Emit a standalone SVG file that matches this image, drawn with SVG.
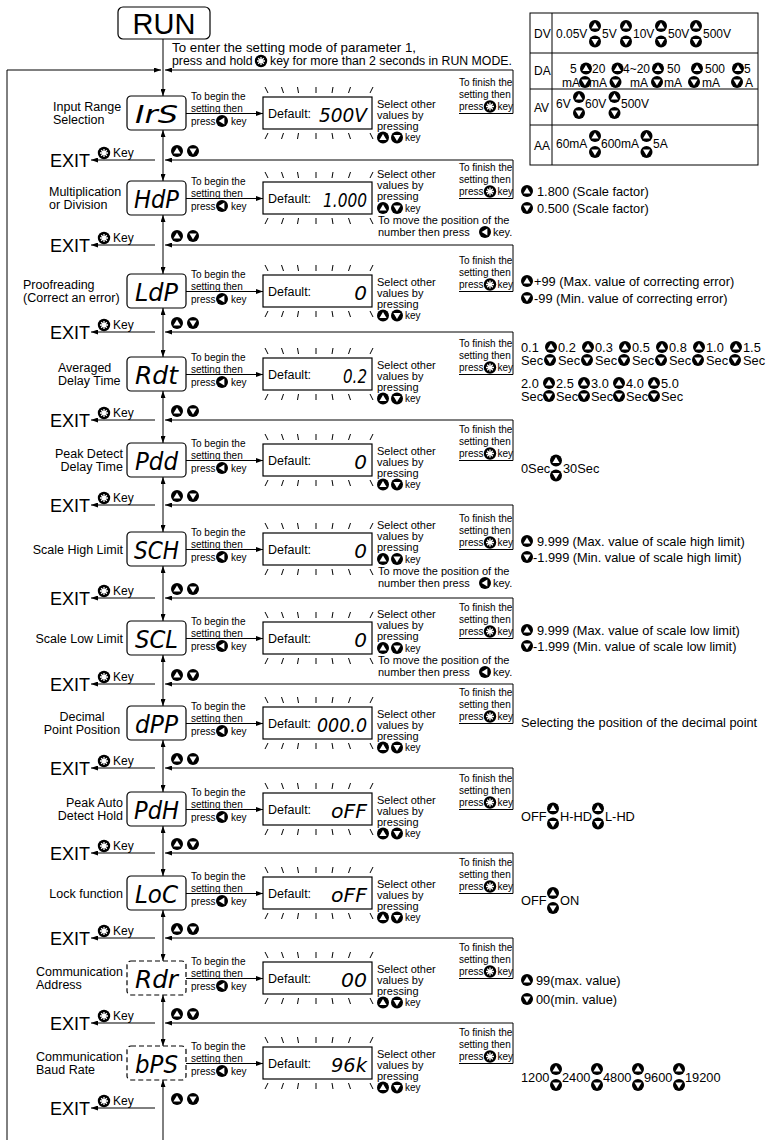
<svg xmlns="http://www.w3.org/2000/svg" width="766" height="1140" viewBox="0 0 766 1140">
<style>
text{font-family:"Liberation Sans",Arial,sans-serif;fill:#000}
.lb{font-size:12.5px}
.sb{font-size:10px}
.s10{font-size:10px}
.s11{font-size:11px}
.rt{font-size:12.8px}
.tb{font-size:12px}
.ky{font-size:12px}
.seg{font-family:"DejaVu Sans",sans-serif;font-style:oblique;font-size:25px}
.dfv{font-family:"DejaVu Sans",sans-serif;font-style:oblique;font-size:20px}
.ex{font-size:18px}
.ln{fill:none;stroke:#000;stroke-width:1}
.bx{fill:#fff;stroke:#000;stroke-width:1.2}
.dash{stroke-dasharray:5 3}
.ar{marker-end:url(#ah)}
.ar2{marker-start:url(#ah);marker-end:url(#ah)}
</style>
<defs>
<marker id="ah" viewBox="0 0 7 5" refX="7" refY="2.5" markerWidth="7" markerHeight="5" markerUnits="userSpaceOnUse" orient="auto-start-reverse"><path d="M0,0L7,2.5L0,5Z" fill="#000"/></marker>
<g id="up"><circle r="6" fill="#000"/><path d="M0,-3.4L3.6,2.4H-3.6Z" fill="#fff"/></g>
<g id="dn"><circle r="6" fill="#000"/><path d="M0,3.4L3.6,-2.4H-3.6Z" fill="#fff"/></g>
<g id="lt"><circle r="6" fill="#000"/><path d="M-3.4,0L2.4,-3.6V3.6Z" fill="#fff"/></g>
<g id="star"><circle r="6.2" fill="#000"/><path d="M0,-4V4M-4,0H4M-2.8,-2.8L2.8,2.8M-2.8,2.8L2.8,-2.8" stroke="#fff" stroke-width="1.3"/></g>
<g id="ticks"><path class="ln" d="M265,-9L268,-3M281.5,-9L283.5,-3M297.5,-9L298.5,-3M316,-9V-3M333,-9L332,-3M350.5,-9L348.5,-3M373,-9L370,-3M268,37L265,43M283.5,37L281.5,43M298.5,37L297.5,43M316,37V43M332,37L333,43M348.5,37L350.5,43M370,37L373,43"/></g>
</defs>
<rect width="766" height="1140" fill="#fff"/>

<g id="run">
<rect class="bx" x="118" y="7" width="92" height="32" rx="5" stroke-width="1.5"/>
<text x="164" y="34" font-size="29" text-anchor="middle">RUN</text>
</g>
<g id="enter-note">
<text class="rt" x="172" y="52" textLength="244" lengthAdjust="spacingAndGlyphs">To enter the setting mode of parameter 1,</text>
<text class="rt" x="172" y="65" style="font-size:12.3px">press and hold</text>
<use href="#star" x="261" y="61"/>
<text class="rt" x="270" y="65" style="font-size:12.3px">key for more than 2 seconds in RUN MODE.</text>
</g>

<g id="range-table">
<rect x="530" y="13" width="228" height="152" fill="none" stroke="#000" stroke-width="1"/>
<path class="ln" d="M530,53H758M530,89H758M530,125H758M552,13V165"/>
<text class="tb" x="534" y="38">DV</text>
<text class="tb" x="534" y="75">DA</text>
<text class="tb" x="534" y="112">AV</text>
<text class="tb" x="534" y="150">AA</text>
<text class="tb" x="556" y="38">0.05V</text><use href="#up" x="595" y="26"/><use href="#dn" x="595" y="41.5"/>
<text class="tb" x="602" y="38">5V</text><use href="#up" x="626" y="26"/><use href="#dn" x="626" y="41.5"/>
<text class="tb" x="633" y="38">10V</text><use href="#up" x="661" y="26"/><use href="#dn" x="661" y="41.5"/>
<text class="tb" x="668" y="38">50V</text><use href="#up" x="696" y="26"/><use href="#dn" x="696" y="41.5"/>
<text class="tb" x="703" y="38">500V</text>
<text class="tb" x="570" y="73">5</text><text class="tb" x="562" y="86.5">mA</text>
<use href="#up" x="586" y="68.5"/><use href="#dn" x="585" y="82"/>
<text class="tb" x="592" y="73">20</text><text class="tb" x="589" y="86.5">mA</text>
<use href="#up" x="617.5" y="68.5"/><use href="#dn" x="615.5" y="82"/>
<text class="tb" x="623" y="73">4~20</text><text class="tb" x="630" y="86.5">mA</text>
<use href="#up" x="658" y="68.5"/><use href="#dn" x="657" y="82"/>
<text class="tb" x="667" y="73">50</text><text class="tb" x="664" y="86.5">mA</text>
<use href="#up" x="697" y="68.5"/><use href="#dn" x="694" y="82"/>
<text class="tb" x="705" y="73">500</text><text class="tb" x="702" y="86.5">mA</text>
<use href="#up" x="738" y="68.5"/><use href="#dn" x="737" y="82"/>
<text class="tb" x="744" y="73">5</text><text class="tb" x="745" y="86.5">A</text>
<text class="tb" x="556" y="108">6V</text><use href="#up" x="579" y="97"/><use href="#dn" x="579" y="113"/>
<text class="tb" x="585" y="108">60V</text><use href="#up" x="614.5" y="97"/><use href="#dn" x="614.5" y="113"/>
<text class="tb" x="621" y="108">500V</text>
<text class="tb" x="556" y="148">60mA</text><use href="#up" x="595" y="136"/><use href="#dn" x="595" y="152"/>
<text class="tb" x="601" y="148">600mA</text><use href="#up" x="646.5" y="136"/><use href="#dn" x="646.5" y="152"/>
<text class="tb" x="653" y="148">5A</text>
</g>

<!-- Row 1 -->
<g id="node-irs" transform="translate(0,96)">
<text class="lb" x="53" y="14.5">Input Range</text><text class="lb" x="53" y="27.5">Selection</text>
<rect class="bx" x="127" y="0" width="59" height="34" rx="4"/>
<text class="seg" x="135" y="27" textLength="43" lengthAdjust="spacingAndGlyphs">IrS</text>
<text class="sb" x="191" y="4">To begin the</text><text class="sb" x="191" y="16">setting then</text><text class="sb" x="191" y="28.5">press</text><use href="#lt" x="222" y="25"/><text class="sb" x="231" y="28.5">key</text>
<rect class="bx" x="263" y="1" width="109" height="32"/><use href="#ticks"/>
<text class="lb" x="268" y="22">Default:</text>
<text class="dfv" x="367" y="26" text-anchor="end" textLength="48" lengthAdjust="spacingAndGlyphs">500V</text>
<text class="s11" x="377" y="12">Select other</text><text class="s11" x="377" y="23">values by</text><text class="s11" x="377" y="34">pressing</text>
<use href="#up" x="383" y="41.5"/><use href="#dn" x="397" y="41.5"/><text class="sb" x="405" y="45">key</text>
<text class="s10" x="459" y="-10">To finish the</text><text class="s10" x="459" y="2">setting then</text><text class="s10" x="459" y="14">press</text><use href="#star" x="490" y="10.5"/><text class="s10" x="497.5" y="14">key</text>
</g>

<!-- Row 2 -->
<g id="node-hdp" transform="translate(0,181)">
<text class="lb" x="49" y="14.5">Multiplication</text><text class="lb" x="49" y="27.5">or Division</text>
<rect class="bx" x="127" y="0" width="59" height="34" rx="4"/>
<text class="seg" x="134" y="27" textLength="45" lengthAdjust="spacingAndGlyphs">HdP</text>
<text class="sb" x="191" y="4">To begin the</text><text class="sb" x="191" y="16">setting then</text><text class="sb" x="191" y="28.5">press</text><use href="#lt" x="222" y="25"/><text class="sb" x="231" y="28.5">key</text>
<rect class="bx" x="263" y="1" width="109" height="32"/><use href="#ticks"/>
<text class="lb" x="268" y="22">Default:</text>
<text class="dfv" x="367" y="26" text-anchor="end" textLength="44" lengthAdjust="spacingAndGlyphs">1.000</text>
<text class="s11" x="377" y="-3">Select other</text><text class="s11" x="377" y="8">values by</text><text class="s11" x="377" y="19">pressing</text>
<use href="#up" x="383" y="27"/><use href="#dn" x="397" y="27"/><text class="sb" x="405" y="30.5">key</text>
<text class="s11" x="378" y="43">To move the position of the</text>
<text class="s11" x="378" y="55">number then press</text><use href="#lt" x="485" y="51"/><text class="s11" x="493" y="55">key.</text>
<text class="s10" x="459" y="-10">To finish the</text><text class="s10" x="459" y="2">setting then</text><text class="s10" x="459" y="14">press</text><use href="#star" x="490" y="10.5"/><text class="s10" x="497.5" y="14">key</text>
<use href="#up" x="527" y="10"/><text class="rt" x="537" y="14.5">1.800 (Scale factor)</text>
<use href="#dn" x="527" y="27"/><text class="rt" x="537" y="31.5">0.500 (Scale factor)</text>
</g>

<!-- Row 3 -->
<g id="node-ldp" transform="translate(0,274)">
<text class="lb" x="23" y="14.5">Proofreading</text><text class="lb" x="23" y="27.5">(Correct an error)</text>
<rect class="bx" x="127" y="0" width="59" height="34" rx="4"/>
<text class="seg" x="135" y="27" textLength="43" lengthAdjust="spacingAndGlyphs">LdP</text>
<text class="sb" x="191" y="4">To begin the</text><text class="sb" x="191" y="16">setting then</text><text class="sb" x="191" y="28.5">press</text><use href="#lt" x="222" y="25"/><text class="sb" x="231" y="28.5">key</text>
<rect class="bx" x="263" y="1" width="109" height="32"/><use href="#ticks"/>
<text class="lb" x="268" y="22">Default:</text>
<text class="dfv" x="367" y="26" text-anchor="end">0</text>
<text class="s11" x="377" y="12">Select other</text><text class="s11" x="377" y="23">values by</text><text class="s11" x="377" y="34">pressing</text>
<use href="#up" x="383" y="41.5"/><use href="#dn" x="397" y="41.5"/><text class="sb" x="405" y="45">key</text>
<text class="s10" x="459" y="-10">To finish the</text><text class="s10" x="459" y="2">setting then</text><text class="s10" x="459" y="14">press</text><use href="#star" x="490" y="10.5"/><text class="s10" x="497.5" y="14">key</text>
<use href="#up" x="527" y="7"/><text class="rt" x="534" y="11.5">+99 (Max. value of correcting error)</text>
<use href="#dn" x="527" y="24"/><text class="rt" x="534" y="28.5">-99 (Min. value of correcting error)</text>
</g>

<!-- Row 4 -->
<g id="node-adt" transform="translate(0,357)">
<text class="lb" x="58" y="14.5">Averaged</text><text class="lb" x="58" y="27.5">Delay Time</text>
<rect class="bx" x="127" y="0" width="59" height="34" rx="4"/>
<text class="seg" x="135" y="27" textLength="43" lengthAdjust="spacingAndGlyphs">Rdt</text>
<text class="sb" x="191" y="4">To begin the</text><text class="sb" x="191" y="16">setting then</text><text class="sb" x="191" y="28.5">press</text><use href="#lt" x="222" y="25"/><text class="sb" x="231" y="28.5">key</text>
<rect class="bx" x="263" y="1" width="109" height="32"/><use href="#ticks"/>
<text class="lb" x="268" y="22">Default:</text>
<text class="dfv" x="367" y="26" text-anchor="end" textLength="24" lengthAdjust="spacingAndGlyphs">0.2</text>
<text class="s11" x="377" y="12">Select other</text><text class="s11" x="377" y="23">values by</text><text class="s11" x="377" y="34">pressing</text>
<use href="#up" x="383" y="41.5"/><use href="#dn" x="397" y="41.5"/><text class="sb" x="405" y="45">key</text>
<text class="s10" x="459" y="-10">To finish the</text><text class="s10" x="459" y="2">setting then</text><text class="s10" x="459" y="14">press</text><use href="#star" x="490" y="10.5"/><text class="s10" x="497.5" y="14">key</text>
<text class="rt" x="521" y="-5.5">0.1</text><text class="rt" x="558" y="-5.5">0.2</text><text class="rt" x="595" y="-5.5">0.3</text><text class="rt" x="632" y="-5.5">0.5</text><text class="rt" x="669" y="-5.5">0.8</text><text class="rt" x="706" y="-5.5">1.0</text><text class="rt" x="743" y="-5.5">1.5</text>
<text class="rt" x="521" y="7.5">Sec</text><text class="rt" x="558" y="7.5">Sec</text><text class="rt" x="595" y="7.5">Sec</text><text class="rt" x="632" y="7.5">Sec</text><text class="rt" x="669" y="7.5">Sec</text><text class="rt" x="706" y="7.5">Sec</text><text class="rt" x="743" y="7.5">Sec</text>
<use href="#up" x="551" y="-10"/><use href="#up" x="588" y="-10"/><use href="#up" x="625" y="-10"/><use href="#up" x="662" y="-10"/><use href="#up" x="699" y="-10"/><use href="#up" x="736" y="-10"/>
<use href="#dn" x="550" y="3"/><use href="#dn" x="587" y="3"/><use href="#dn" x="624" y="3"/><use href="#dn" x="661" y="3"/><use href="#dn" x="698" y="3"/><use href="#dn" x="735" y="3"/>
<text class="rt" x="521" y="30.5">2.0</text><text class="rt" x="556" y="30.5">2.5</text><text class="rt" x="591" y="30.5">3.0</text><text class="rt" x="626" y="30.5">4.0</text><text class="rt" x="661" y="30.5">5.0</text>
<text class="rt" x="521" y="43.5">Sec</text><text class="rt" x="556" y="43.5">Sec</text><text class="rt" x="591" y="43.5">Sec</text><text class="rt" x="626" y="43.5">Sec</text><text class="rt" x="661" y="43.5">Sec</text>
<use href="#up" x="549" y="26"/><use href="#up" x="584" y="26"/><use href="#up" x="619" y="26"/><use href="#up" x="654" y="26"/>
<use href="#dn" x="549" y="39"/><use href="#dn" x="584" y="39"/><use href="#dn" x="619" y="39"/><use href="#dn" x="654" y="39"/>
</g>

<!-- Row 5 -->
<g id="node-pdd" transform="translate(0,443)">
<text class="lb" x="123" y="14.5" text-anchor="end">Peak Detect</text><text class="lb" x="123" y="27.5" text-anchor="end">Delay Time</text>
<rect class="bx" x="127" y="0" width="59" height="34" rx="4"/>
<text class="seg" x="135" y="27" textLength="43" lengthAdjust="spacingAndGlyphs">Pdd</text>
<text class="sb" x="191" y="4">To begin the</text><text class="sb" x="191" y="16">setting then</text><text class="sb" x="191" y="28.5">press</text><use href="#lt" x="222" y="25"/><text class="sb" x="231" y="28.5">key</text>
<rect class="bx" x="263" y="1" width="109" height="32"/><use href="#ticks"/>
<text class="lb" x="268" y="22">Default:</text>
<text class="dfv" x="367" y="26" text-anchor="end">0</text>
<text class="s11" x="377" y="12">Select other</text><text class="s11" x="377" y="23">values by</text><text class="s11" x="377" y="34">pressing</text>
<use href="#up" x="383" y="41.5"/><use href="#dn" x="397" y="41.5"/><text class="sb" x="405" y="45">key</text>
<text class="s10" x="459" y="-10">To finish the</text><text class="s10" x="459" y="2">setting then</text><text class="s10" x="459" y="14">press</text><use href="#star" x="490" y="10.5"/><text class="s10" x="497.5" y="14">key</text>
<text class="rt" x="521" y="29.5">0Sec</text><use href="#up" x="556" y="17.5"/><use href="#dn" x="556" y="32.5"/><text class="rt" x="563" y="29.5">30Sec</text>
</g>

<!-- Row 6 -->
<g id="node-sch" transform="translate(0,532)">
<text class="lb" x="123" y="21.5" text-anchor="end">Scale High Limit</text>
<rect class="bx" x="127" y="0" width="59" height="34" rx="4"/>
<text class="seg" x="134" y="27" textLength="45" lengthAdjust="spacingAndGlyphs">SCH</text>
<text class="sb" x="191" y="4">To begin the</text><text class="sb" x="191" y="16">setting then</text><text class="sb" x="191" y="28.5">press</text><use href="#lt" x="222" y="25"/><text class="sb" x="231" y="28.5">key</text>
<rect class="bx" x="263" y="1" width="109" height="32"/><use href="#ticks"/>
<text class="lb" x="268" y="22">Default:</text>
<text class="dfv" x="367" y="26" text-anchor="end">0</text>
<text class="s11" x="377" y="-3">Select other</text><text class="s11" x="377" y="8">values by</text><text class="s11" x="377" y="19">pressing</text>
<use href="#up" x="383" y="27"/><use href="#dn" x="397" y="27"/><text class="sb" x="405" y="30.5">key</text>
<text class="s11" x="378" y="43">To move the position of the</text>
<text class="s11" x="378" y="55">number then press</text><use href="#lt" x="485" y="51"/><text class="s11" x="493" y="55">key.</text>
<text class="s10" x="459" y="-10">To finish the</text><text class="s10" x="459" y="2">setting then</text><text class="s10" x="459" y="14">press</text><use href="#star" x="490" y="10.5"/><text class="s10" x="497.5" y="14">key</text>
<use href="#up" x="527" y="9"/><text class="rt" x="537" y="13.5">9.999 (Max. value of scale high limit)</text>
<use href="#dn" x="527" y="25"/><text class="rt" x="533" y="29.5">-1.999 (Min. value of scale high limit)</text>
</g>

<!-- Row 7 -->
<g id="node-scl" transform="translate(0,621)">
<text class="lb" x="123" y="21.5" text-anchor="end">Scale Low Limit</text>
<rect class="bx" x="127" y="0" width="59" height="34" rx="4"/>
<text class="seg" x="135" y="27" textLength="43" lengthAdjust="spacingAndGlyphs">SCL</text>
<text class="sb" x="191" y="4">To begin the</text><text class="sb" x="191" y="16">setting then</text><text class="sb" x="191" y="28.5">press</text><use href="#lt" x="222" y="25"/><text class="sb" x="231" y="28.5">key</text>
<rect class="bx" x="263" y="1" width="109" height="32"/><use href="#ticks"/>
<text class="lb" x="268" y="22">Default:</text>
<text class="dfv" x="367" y="26" text-anchor="end">0</text>
<text class="s11" x="377" y="-3">Select other</text><text class="s11" x="377" y="8">values by</text><text class="s11" x="377" y="19">pressing</text>
<use href="#up" x="383" y="27"/><use href="#dn" x="397" y="27"/><text class="sb" x="405" y="30.5">key</text>
<text class="s11" x="378" y="43">To move the position of the</text>
<text class="s11" x="378" y="55">number then press</text><use href="#lt" x="485" y="51"/><text class="s11" x="493" y="55">key.</text>
<text class="s10" x="459" y="-10">To finish the</text><text class="s10" x="459" y="2">setting then</text><text class="s10" x="459" y="14">press</text><use href="#star" x="490" y="10.5"/><text class="s10" x="497.5" y="14">key</text>
<use href="#up" x="527" y="9"/><text class="rt" x="537" y="13.5">9.999 (Max. value of scale low limit)</text>
<use href="#dn" x="527" y="25"/><text class="rt" x="533" y="29.5">-1.999 (Min. value of scale low limit)</text>
</g>

<!-- Row 8 -->
<g id="node-dpp" transform="translate(0,706)">
<text class="lb" x="82" y="14.5" text-anchor="middle">Decimal</text><text class="lb" x="82" y="27.5" text-anchor="middle">Point Position</text>
<rect class="bx" x="127" y="0" width="59" height="34" rx="4"/>
<text class="seg" x="135" y="27" textLength="43" lengthAdjust="spacingAndGlyphs">dPP</text>
<text class="sb" x="191" y="4">To begin the</text><text class="sb" x="191" y="16">setting then</text><text class="sb" x="191" y="28.5">press</text><use href="#lt" x="222" y="25"/><text class="sb" x="231" y="28.5">key</text>
<rect class="bx" x="263" y="1" width="109" height="32"/><use href="#ticks"/>
<text class="lb" x="268" y="22">Default:</text>
<text class="dfv" x="367" y="26" text-anchor="end" textLength="50" lengthAdjust="spacingAndGlyphs">000.0</text>
<text class="s11" x="377" y="12">Select other</text><text class="s11" x="377" y="23">values by</text><text class="s11" x="377" y="34">pressing</text>
<use href="#up" x="383" y="41.5"/><use href="#dn" x="397" y="41.5"/><text class="sb" x="405" y="45">key</text>
<text class="s10" x="459" y="-10">To finish the</text><text class="s10" x="459" y="2">setting then</text><text class="s10" x="459" y="14">press</text><use href="#star" x="490" y="10.5"/><text class="s10" x="497.5" y="14">key</text>
<text class="rt" x="521" y="20.5">Selecting the position of the decimal point</text>
</g>

<!-- Row 9 -->
<g id="node-pdh" transform="translate(0,792)">
<text class="lb" x="123" y="14.5" text-anchor="end">Peak Auto</text><text class="lb" x="123" y="27.5" text-anchor="end">Detect Hold</text>
<rect class="bx" x="127" y="0" width="59" height="34" rx="4"/>
<text class="seg" x="134" y="27" textLength="45" lengthAdjust="spacingAndGlyphs">PdH</text>
<text class="sb" x="191" y="4">To begin the</text><text class="sb" x="191" y="16">setting then</text><text class="sb" x="191" y="28.5">press</text><use href="#lt" x="222" y="25"/><text class="sb" x="231" y="28.5">key</text>
<rect class="bx" x="263" y="1" width="109" height="32"/><use href="#ticks"/>
<text class="lb" x="268" y="22">Default:</text>
<text class="dfv" x="367" y="26" text-anchor="end" textLength="36" lengthAdjust="spacingAndGlyphs">oFF</text>
<text class="s11" x="377" y="12">Select other</text><text class="s11" x="377" y="23">values by</text><text class="s11" x="377" y="34">pressing</text>
<use href="#up" x="383" y="41.5"/><use href="#dn" x="397" y="41.5"/><text class="sb" x="405" y="45">key</text>
<text class="s10" x="459" y="-10">To finish the</text><text class="s10" x="459" y="2">setting then</text><text class="s10" x="459" y="14">press</text><use href="#star" x="490" y="10.5"/><text class="s10" x="497.5" y="14">key</text>
<text class="rt" x="521" y="28.5">OFF</text><use href="#up" x="553" y="16.5"/><use href="#dn" x="553" y="31.5"/>
<text class="rt" x="560" y="28.5">H-HD</text><use href="#up" x="598" y="16.5"/><use href="#dn" x="598" y="31.5"/>
<text class="rt" x="605" y="28.5">L-HD</text>
</g>

<!-- Row 10 -->
<g id="node-loc" transform="translate(0,876)">
<text class="lb" x="123" y="21.5" text-anchor="end">Lock function</text>
<rect class="bx" x="127" y="0" width="59" height="34" rx="4"/>
<text class="seg" x="135" y="27" textLength="43" lengthAdjust="spacingAndGlyphs">LoC</text>
<text class="sb" x="191" y="4">To begin the</text><text class="sb" x="191" y="16">setting then</text><text class="sb" x="191" y="28.5">press</text><use href="#lt" x="222" y="25"/><text class="sb" x="231" y="28.5">key</text>
<rect class="bx" x="263" y="1" width="109" height="32"/><use href="#ticks"/>
<text class="lb" x="268" y="22">Default:</text>
<text class="dfv" x="367" y="26" text-anchor="end" textLength="36" lengthAdjust="spacingAndGlyphs">oFF</text>
<text class="s11" x="377" y="12">Select other</text><text class="s11" x="377" y="23">values by</text><text class="s11" x="377" y="34">pressing</text>
<use href="#up" x="383" y="41.5"/><use href="#dn" x="397" y="41.5"/><text class="sb" x="405" y="45">key</text>
<text class="s10" x="459" y="-10">To finish the</text><text class="s10" x="459" y="2">setting then</text><text class="s10" x="459" y="14">press</text><use href="#star" x="490" y="10.5"/><text class="s10" x="497.5" y="14">key</text>
<text class="rt" x="521" y="29">OFF</text><use href="#up" x="553" y="17"/><use href="#dn" x="553" y="32"/>
<text class="rt" x="560" y="29">ON</text>
</g>

<!-- Row 11 -->
<g id="node-adr" transform="translate(0,961)">
<text class="lb" x="36" y="14.5">Communication</text><text class="lb" x="36" y="27.5">Address</text>
<rect class="bx dash" x="127" y="0" width="59" height="34" rx="4"/>
<text class="seg" x="135" y="27" textLength="43" lengthAdjust="spacingAndGlyphs">Rdr</text>
<text class="sb" x="191" y="4">To begin the</text><text class="sb" x="191" y="16">setting then</text><text class="sb" x="191" y="28.5">press</text><use href="#lt" x="222" y="25"/><text class="sb" x="231" y="28.5">key</text>
<rect class="bx" x="263" y="1" width="109" height="32"/><use href="#ticks"/>
<text class="lb" x="268" y="22">Default:</text>
<text class="dfv" x="367" y="26" text-anchor="end" textLength="26" lengthAdjust="spacingAndGlyphs">00</text>
<text class="s11" x="377" y="12">Select other</text><text class="s11" x="377" y="23">values by</text><text class="s11" x="377" y="34">pressing</text>
<use href="#up" x="383" y="41.5"/><use href="#dn" x="397" y="41.5"/><text class="sb" x="405" y="45">key</text>
<text class="s10" x="459" y="-10">To finish the</text><text class="s10" x="459" y="2">setting then</text><text class="s10" x="459" y="14">press</text><use href="#star" x="490" y="10.5"/><text class="s10" x="497.5" y="14">key</text>
<use href="#up" x="527" y="19"/><text class="rt" x="536" y="23.5">99(max. value)</text>
<use href="#dn" x="527" y="38"/><text class="rt" x="536" y="42.5">00(min. value)</text>
</g>

<!-- Row 12 -->
<g id="node-bps" transform="translate(0,1046)">
<text class="lb" x="36" y="14.5">Communication</text><text class="lb" x="36" y="27.5">Baud Rate</text>
<rect class="bx dash" x="127" y="0" width="59" height="34" rx="4"/>
<text class="seg" x="135" y="27" textLength="43" lengthAdjust="spacingAndGlyphs">bPS</text>
<text class="sb" x="191" y="4">To begin the</text><text class="sb" x="191" y="16">setting then</text><text class="sb" x="191" y="28.5">press</text><use href="#lt" x="222" y="25"/><text class="sb" x="231" y="28.5">key</text>
<rect class="bx" x="263" y="1" width="109" height="32"/><use href="#ticks"/>
<text class="lb" x="268" y="22">Default:</text>
<text class="dfv" x="367" y="26" text-anchor="end" textLength="36" lengthAdjust="spacingAndGlyphs">96k</text>
<text class="s11" x="377" y="12">Select other</text><text class="s11" x="377" y="23">values by</text><text class="s11" x="377" y="34">pressing</text>
<use href="#up" x="383" y="41.5"/><use href="#dn" x="397" y="41.5"/><text class="sb" x="405" y="45">key</text>
<text class="s10" x="459" y="-10">To finish the</text><text class="s10" x="459" y="2">setting then</text><text class="s10" x="459" y="14">press</text><use href="#star" x="490" y="10.5"/><text class="s10" x="497.5" y="14">key</text>
<text class="rt" x="521" y="35.5">1200</text><use href="#up" x="556" y="23"/><use href="#dn" x="556" y="39"/>
<text class="rt" x="562" y="35.5">2400</text><use href="#up" x="597" y="23"/><use href="#dn" x="597" y="39"/>
<text class="rt" x="603" y="35.5">4800</text><use href="#up" x="638" y="23"/><use href="#dn" x="638" y="39"/>
<text class="rt" x="644" y="35.5">9600</text><use href="#up" x="679" y="23"/><use href="#dn" x="679" y="39"/>
<text class="rt" x="685" y="35.5">19200</text>
</g>

<!-- EXIT nodes -->
<g id="exit-1"><text class="ex" x="50" y="166.5">EXIT</text><use href="#star" x="104" y="153"/><text class="ky" x="113" y="157">Key</text></g>
<g id="exit-2"><text class="ex" x="50" y="251.5">EXIT</text><use href="#star" x="104" y="238"/><text class="ky" x="113" y="242">Key</text></g>
<g id="exit-3"><text class="ex" x="50" y="338.5">EXIT</text><use href="#star" x="104" y="325"/><text class="ky" x="113" y="329">Key</text></g>
<g id="exit-4"><text class="ex" x="50" y="426.5">EXIT</text><use href="#star" x="104" y="413"/><text class="ky" x="113" y="417">Key</text></g>
<g id="exit-5"><text class="ex" x="50" y="511.5">EXIT</text><use href="#star" x="104" y="498"/><text class="ky" x="113" y="502">Key</text></g>
<g id="exit-6"><text class="ex" x="50" y="604.5">EXIT</text><use href="#star" x="104" y="591"/><text class="ky" x="113" y="595">Key</text></g>
<g id="exit-7"><text class="ex" x="50" y="690.5">EXIT</text><use href="#star" x="104" y="677"/><text class="ky" x="113" y="681">Key</text></g>
<g id="exit-8"><text class="ex" x="50" y="774.5">EXIT</text><use href="#star" x="104" y="761"/><text class="ky" x="113" y="765">Key</text></g>
<g id="exit-9"><text class="ex" x="50" y="859.5">EXIT</text><use href="#star" x="104" y="846"/><text class="ky" x="113" y="850">Key</text></g>
<g id="exit-10"><text class="ex" x="50" y="944.5">EXIT</text><use href="#star" x="104" y="931"/><text class="ky" x="113" y="935">Key</text></g>
<g id="exit-11"><text class="ex" x="50" y="1029.5">EXIT</text><use href="#star" x="104" y="1016"/><text class="ky" x="113" y="1020">Key</text></g>
<g id="exit-12"><text class="ex" x="50" y="1114.5">EXIT</text><use href="#star" x="104" y="1101"/><text class="ky" x="113" y="1105">Key</text></g>

<g id="connectors" class="ln">
<line x1="163" y1="39" x2="163" y2="96" class="ar"/>
<polyline points="7,1140 7,70 161,70" class="ar"/>
<polyline points="459,113.5 513,113.5 513,70 165,70" class="ar"/>
<polyline points="459,198.5 513,198.5 513,160 165,160" class="ar"/>
<polyline points="459,291.5 513,291.5 513,245 165,245" class="ar"/>
<polyline points="459,374.5 513,374.5 513,332 165,332" class="ar"/>
<polyline points="459,460.5 513,460.5 513,420 165,420" class="ar"/>
<polyline points="459,549.5 513,549.5 513,505 165,505" class="ar"/>
<polyline points="459,638.5 513,638.5 513,598 165,598" class="ar"/>
<polyline points="459,723.5 513,723.5 513,684 165,684" class="ar"/>
<polyline points="459,809.5 513,809.5 513,768 165,768" class="ar"/>
<polyline points="459,893.5 513,893.5 513,853 165,853" class="ar"/>
<polyline points="459,978.5 513,978.5 513,938 165,938" class="ar"/>
<polyline points="459,1063.5 513,1063.5 513,1023 165,1023" class="ar"/>
<line x1="186" y1="113.5" x2="263" y2="113.5" class="ar"/>
<line x1="186" y1="198.5" x2="263" y2="198.5" class="ar"/>
<line x1="186" y1="291.5" x2="263" y2="291.5" class="ar"/>
<line x1="186" y1="374.5" x2="263" y2="374.5" class="ar"/>
<line x1="186" y1="460.5" x2="263" y2="460.5" class="ar"/>
<line x1="186" y1="549.5" x2="263" y2="549.5" class="ar"/>
<line x1="186" y1="638.5" x2="263" y2="638.5" class="ar"/>
<line x1="186" y1="723.5" x2="263" y2="723.5" class="ar"/>
<line x1="186" y1="809.5" x2="263" y2="809.5" class="ar"/>
<line x1="186" y1="893.5" x2="263" y2="893.5" class="ar"/>
<line x1="186" y1="978.5" x2="263" y2="978.5" class="ar"/>
<line x1="186" y1="1063.5" x2="263" y2="1063.5" class="ar"/>
<line x1="163" y1="130" x2="163" y2="181" class="ar2"/>
<line x1="163" y1="215" x2="163" y2="274" class="ar2"/>
<line x1="163" y1="308" x2="163" y2="357" class="ar2"/>
<line x1="163" y1="391" x2="163" y2="443" class="ar2"/>
<line x1="163" y1="477" x2="163" y2="532" class="ar2"/>
<line x1="163" y1="566" x2="163" y2="621" class="ar2"/>
<line x1="163" y1="655" x2="163" y2="706" class="ar2"/>
<line x1="163" y1="740" x2="163" y2="792" class="ar2"/>
<line x1="163" y1="826" x2="163" y2="876" class="ar2"/>
<line x1="163" y1="910" x2="163" y2="961" class="ar2"/>
<line x1="163" y1="995" x2="163" y2="1046" class="ar2"/>
<line x1="163" y1="1140" x2="163" y2="1080" class="ar"/>
<line x1="155" y1="160" x2="91" y2="160" class="ar"/>
<line x1="155" y1="245" x2="91" y2="245" class="ar"/>
<line x1="155" y1="332" x2="91" y2="332" class="ar"/>
<line x1="155" y1="420" x2="91" y2="420" class="ar"/>
<line x1="155" y1="505" x2="91" y2="505" class="ar"/>
<line x1="155" y1="598" x2="91" y2="598" class="ar"/>
<line x1="155" y1="684" x2="91" y2="684" class="ar"/>
<line x1="155" y1="768" x2="91" y2="768" class="ar"/>
<line x1="155" y1="853" x2="91" y2="853" class="ar"/>
<line x1="155" y1="938" x2="91" y2="938" class="ar"/>
<line x1="155" y1="1023" x2="91" y2="1023" class="ar"/>
<line x1="155" y1="1108" x2="91" y2="1108" class="ar"/>
<g id="connector-keys" stroke="none">
<use href="#up" x="177" y="151"/><use href="#dn" x="193" y="151"/>
<use href="#up" x="177" y="236"/><use href="#dn" x="193" y="236"/>
<use href="#up" x="177" y="323"/><use href="#dn" x="193" y="323"/>
<use href="#up" x="177" y="411"/><use href="#dn" x="193" y="411"/>
<use href="#up" x="177" y="496"/><use href="#dn" x="193" y="496"/>
<use href="#up" x="177" y="589"/><use href="#dn" x="193" y="589"/>
<use href="#up" x="177" y="675"/><use href="#dn" x="193" y="675"/>
<use href="#up" x="177" y="759"/><use href="#dn" x="193" y="759"/>
<use href="#up" x="177" y="844"/><use href="#dn" x="193" y="844"/>
<use href="#up" x="177" y="929"/><use href="#dn" x="193" y="929"/>
<use href="#up" x="177" y="1014"/><use href="#dn" x="193" y="1014"/>
<use href="#up" x="177" y="1099"/><use href="#dn" x="193" y="1099"/>
</g>
</g>
</svg>
